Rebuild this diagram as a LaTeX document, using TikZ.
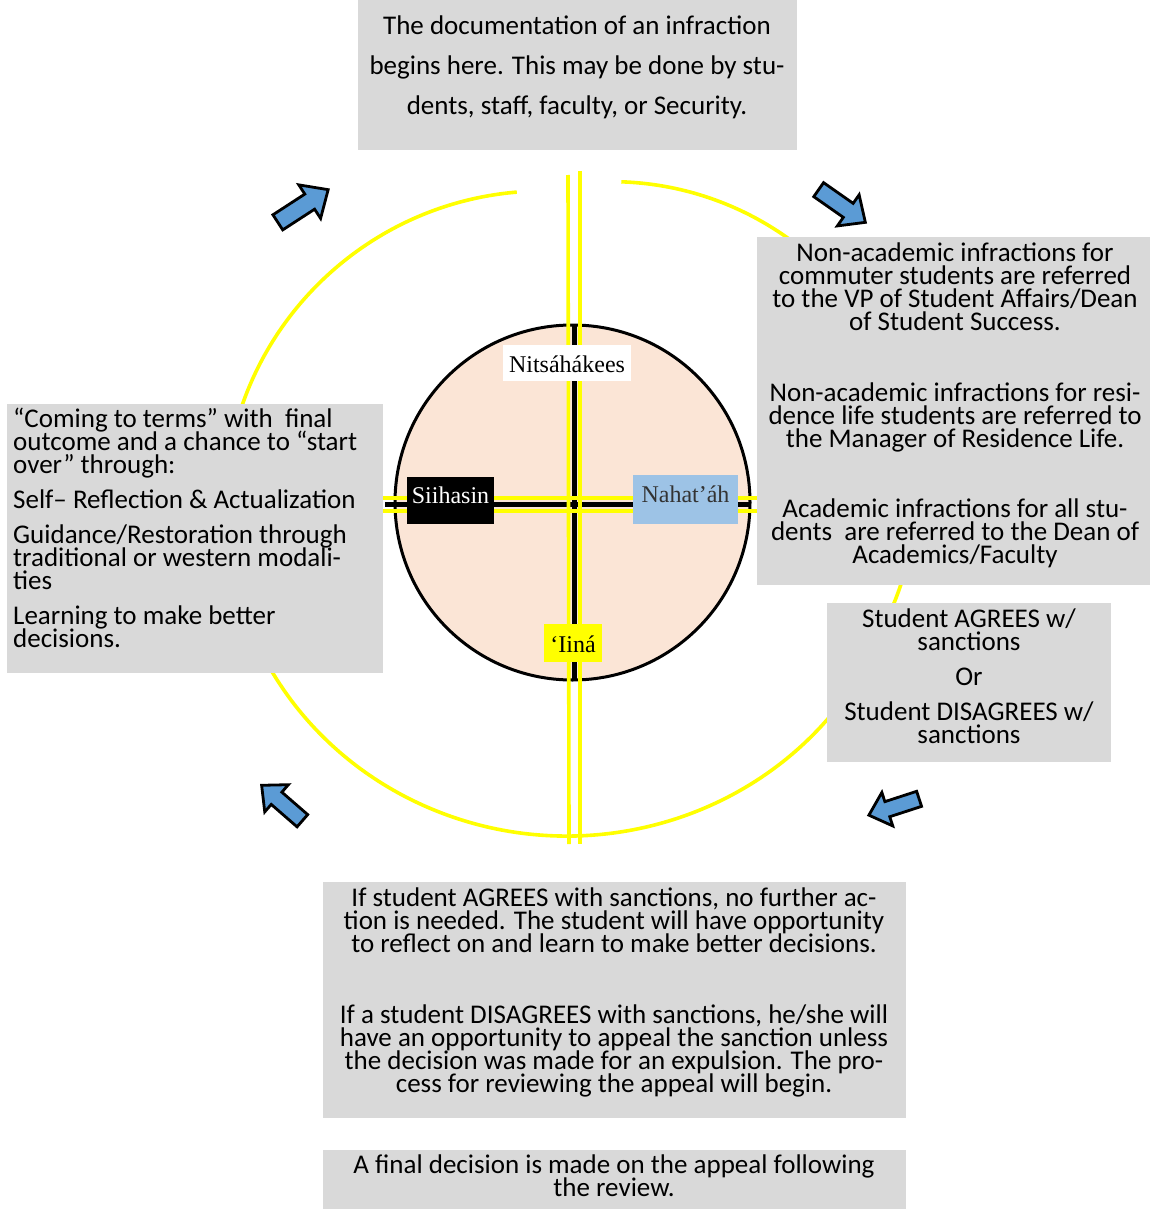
\documentclass[tikz,border=0pt]{standalone}
\usepackage{fontspec}
\usetikzlibrary{calc}
\setmainfont{Carlito}
\newfontfamily\tnr{Liberation Serif}
\definecolor{boxgrey}{HTML}{D9D9D9}
\definecolor{pinkfill}{HTML}{FBE5D6}
\definecolor{lblblue}{HTML}{9DC3E6}
\definecolor{arrowblue}{HTML}{5B9BD5}
\definecolor{ylw}{HTML}{FFFF00}
\newcommand\topstr{\rule{0pt}{21pt}}
\newcommand\tightlines{\lineskiplimit=-100pt\relax}
\tikzset{
  greybox/.style={fill=boxgrey, draw=none, inner sep=0pt, outer sep=0pt, anchor=north west},
  bodytext/.style={font=\fontsize{27}{23}\selectfont\tightlines, align=center, inner sep=0pt, anchor=north},
  lbl/.style={font=\tnr\fontsize{24}{26}\selectfont, inner sep=0pt, outer sep=0pt, anchor=base},
  yline/.style={draw=ylw, line width=3.6pt},
  blockarrow/.pic={
    \draw[line width=2.8pt, fill=arrowblue, line join=miter]
      (-30,-9) -- (8,-9) -- (8,-20) -- (30,0) -- (8,20) -- (8,9) -- (-30,9) -- cycle;
  }
}
\begin{document}
\begin{tikzpicture}[x=1pt, y=-1pt]
\useasboundingbox (0,0) rectangle (1151,1209);
\fill[white] (0,0) rectangle (1151,1209);

% outer yellow cycle (three arcs, partly hidden by boxes)
\coordinate (arcR) at (621.3,181.8);
\coordinate (arcB) at (875.1,647.2);
\coordinate (arcL) at (516.8,192.1);
\draw[yline] (arcR) arc[start angle=-88, end angle=30, radius=306];
\draw[yline] (arcB) arc[start angle=25, end angle=175, x radius=340, y radius=327];
\draw[yline] (arcL) arc[start angle=265.2, end angle=190, radius=319];

% central circle
\node[circle, minimum size=355pt, fill=pinkfill, draw=black, line width=3pt, inner sep=0pt] (wheel) at (572.5,502.5) {};

% cross lines
\coordinate (vtopl) at (568,175); \coordinate (vbotl) at (569,844);
\coordinate (vtopr) at (580,171); \coordinate (vbotr) at (580,844);
\coordinate (hleft1) at (375,498); \coordinate (hright1) at (765,498);
\coordinate (hleft2) at (375,511); \coordinate (hright2) at (765,511);
\coordinate (vbk1) at ($(wheel.north)+(1.5,2)$);
\coordinate (vbk2) at ($(wheel.south)+(1.5,-2)$);
\coordinate (hbk1) at (385,504.5);
\coordinate (hbk2) at (750,504.5);
\draw[black, line width=5pt] (vbk1) -- (vbk2);
\draw[black, line width=5pt] (hbk1) -- (hbk2);
\draw[yline] (vtopl) -- (vbotl);
\draw[yline] (vtopr) -- (vbotr);
\draw[yline] (hleft1) -- (hright1);
\draw[yline] (hleft2) -- (hright2);

% direction labels
\node[lbl, fill=white, minimum width=128pt, text height=27pt, text depth=9pt] (north) at (567,372) {Nitsáhákees};
\node[lbl, fill=black, text=white, minimum width=87pt, text height=26pt, text depth=21pt] (west) at (450.5,503) {Siihasin};
\node[lbl, fill=lblblue, text=black!80, minimum width=105pt, text height=27pt, text depth=22pt] (east) at (685.5,502) {Nahat’áh};
\node[lbl, fill=ylw, minimum width=58pt, text height=28pt, text depth=10pt] (south) at (573,652) {‘Iiná};

% grey boxes
\node[greybox, minimum width=439pt, minimum height=150pt] (topbox) at (358,0) {};
\node[greybox, minimum width=393pt, minimum height=348pt] (rightbox) at (757,237) {};
\node[greybox, minimum width=376pt, minimum height=269pt] (leftbox) at (7,404) {};
\node[greybox, minimum width=284pt, minimum height=159pt] (studbox) at (827,603) {};
\node[greybox, minimum width=583pt, minimum height=236pt] (botbox) at (323,882) {};
\node[greybox, minimum width=583pt, minimum height=59pt] (finalbox) at (323,1150) {};

% texts
\node[bodytext, font=\fontsize{27}{40}\selectfont] (toptext) at (577,13) {\topstr The documentation of an infraction\\ begins here. This may be done by stu-\\ dents, staff, faculty, or Security.};

\node[bodytext] (r1) at (955,240) {\topstr Non-academic infractions for\\ commuter students are referred\\ to the VP of Student Affairs/Dean\\ of Student Success.};
\node[bodytext] (r2) at (955,380) {\topstr Non-academic infractions for resi-\\ dence life students are referred to\\ the Manager of Residence Life.};
\node[bodytext] (r3) at (955,496) {\topstr Academic infractions for all stu-\\ dents~ are referred to the Dean of\\ Academics/Faculty};

\node[bodytext, align=left, anchor=north west] (lefttext) at (13,406) {\topstr “Coming to terms” with~ final\\ outcome and a chance to “start\\ over” through:\\[12pt] Self– Reflection \& Actualization\\[12pt] Guidance/Restoration through\\ traditional or western modali-\\ ties\\[12pt] Learning to make better\\ decisions.};

\node[bodytext] (studtext) at (969,606) {\topstr Student AGREES w/\\ sanctions\\[12pt] Or\\[12pt] Student DISAGREES w/\\ sanctions};

\node[bodytext] (b1) at (614,885) {\topstr If student AGREES with sanctions, no further ac-\\ tion is needed. The student will have opportunity\\ to reflect on and learn to make better decisions.};
\node[bodytext] (b2) at (614,1002) {\topstr If a student DISAGREES with sanctions, he/she will\\ have an opportunity to appeal the sanction unless\\ the decision was made for an expulsion. The pro-\\ cess for reviewing the appeal will begin.};

\node[bodytext] (finaltext) at (614,1152) {\topstr A final decision is made on the appeal following\\ the review.};

% block arrows
\pic[rotate=33] (arrA) at (303,206) {blockarrow};
\pic[rotate=-35, scale=0.95] (arrB) at (842,206) {blockarrow};
\pic[rotate=198, scale=0.88] (arrC) at (894,807) {blockarrow};
\pic[rotate=139, scale=0.9] (arrD) at (282,803) {blockarrow};
\end{tikzpicture}
\end{document}
